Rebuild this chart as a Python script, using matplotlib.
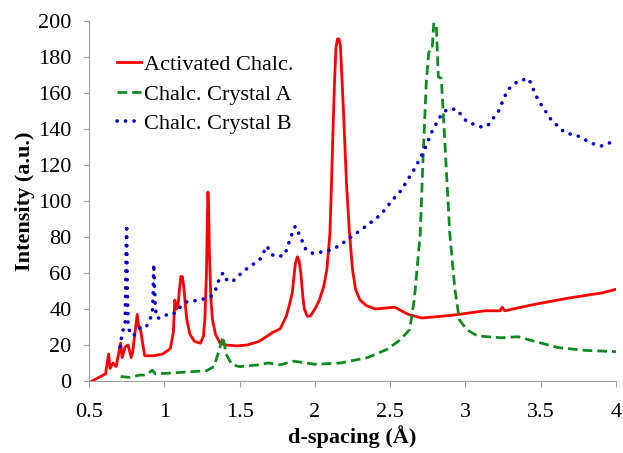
import matplotlib
matplotlib.use("Agg")
import matplotlib.pyplot as plt, numpy as np

plt.rcParams['font.family'] = ['Liberation Serif', 'DejaVu Serif']

# Activated Chalc.
d_act = [0.52, 0.61, 0.63, 0.64, 0.66, 0.68, 0.71, 0.72, 0.74, 0.76, 0.78, 0.79, 0.82, 0.83,
         0.84, 0.86, 0.87, 0.93, 0.99, 1.04, 1.06, 1.07, 1.08, 1.09, 1.10, 1.11, 1.12, 1.13,
         1.14, 1.15, 1.17, 1.20, 1.24, 1.26, 1.27, 1.28, 1.285, 1.29, 1.295, 1.30, 1.31, 1.32,
         1.34, 1.37, 1.41, 1.48, 1.55, 1.63, 1.72, 1.77, 1.81, 1.83, 1.85, 1.87, 1.884, 1.895,
         1.907, 1.92, 1.93, 1.95, 1.97, 2.0, 2.03, 2.06, 2.08, 2.10, 2.11, 2.12, 2.13, 2.14,
         2.15, 2.16, 2.17, 2.18, 2.19, 2.196, 2.21, 2.23, 2.25, 2.27, 2.30, 2.34, 2.40, 2.53,
         2.62, 2.71, 2.91, 3.13, 3.23, 3.244, 3.26, 3.46, 3.68, 3.91, 4.0]
i_act = [0, 4, 15, 7, 10, 8, 21, 13, 19, 20, 13, 16, 37, 30,
         30, 19, 14, 14, 15, 18, 27, 45, 40, 41, 50, 58, 58, 52,
         42, 34, 26, 22, 21, 25, 35, 60, 85, 105, 95, 70, 45, 34,
         26, 21, 20, 19.5, 20, 22, 27, 29, 36, 42, 49, 65, 69, 67,
         60, 47, 40, 36, 36, 40, 45, 53, 62, 82, 108, 138, 165, 185,
         190, 190, 186, 168, 150, 138, 110, 82, 62, 51, 45, 42, 40, 41,
         37, 35, 36.5, 39, 39, 41, 39, 42.6, 46, 49, 51]

# Chalc. Crystal A
d_a = [0.71, 0.77, 0.84, 0.88, 0.92, 0.94, 1.02, 1.15, 1.28, 1.33, 1.36, 1.39, 1.41, 1.45,
       1.50, 1.63, 1.69, 1.77, 1.86, 2.0, 2.17, 2.35, 2.48, 2.57, 2.63, 2.66, 2.70, 2.72,
       2.74, 2.756, 2.77, 2.78, 2.79, 2.807, 2.82, 2.84, 2.86, 2.896, 2.93, 2.96, 3.007,
       3.08, 3.24, 3.35, 3.46, 3.62, 3.80, 4.0]
i_a = [2.5, 2, 3.3, 3.3, 6, 4, 4.3, 5, 5.7, 8, 16, 24.6, 15, 9,
       8, 9, 10, 9, 11, 9.3, 10, 13, 17.6, 23, 28.7, 45, 82, 127,
       166, 182, 186, 186, 199, 197, 169, 168, 138, 82, 51, 34, 28.7,
       25, 24, 24.6, 22, 18.5, 17, 16.3]

# Chalc. Crystal B
d_b = [0.706, 0.72, 0.74, 0.745, 0.75, 0.754, 0.76, 0.78, 0.80, 0.83, 0.85, 0.88, 0.92, 0.925,
       0.93, 0.94, 0.95, 0.98, 1.02, 1.06, 1.09, 1.15, 1.24, 1.31, 1.34, 1.37, 1.39, 1.41,
       1.45, 1.50, 1.55, 1.61, 1.64, 1.68, 1.72, 1.75, 1.80, 1.84, 1.87, 1.91, 1.94, 1.98,
       2.08, 2.16, 2.24, 2.34, 2.44, 2.51, 2.57, 2.66, 2.72, 2.78, 2.84, 2.88, 2.94, 3.01,
       3.11, 3.15, 3.22, 3.28, 3.35, 3.42, 3.48, 3.57, 3.66, 3.75, 3.84, 3.90, 3.95, 4.0]
i_b = [19, 26.5, 32, 63, 87, 54, 30, 25.5, 25.5, 29, 30, 30, 37, 45,
       65, 41, 35, 35, 37, 37, 40, 44, 45, 47, 50.5, 58, 60, 56.5,
       55, 59, 62.5, 66, 68, 75, 70, 69, 70, 80, 86, 79, 73, 71,
       72, 75, 80, 86, 92.6, 100, 105.6, 117.6, 127, 139, 148, 151, 151, 144,
       141, 142, 150, 161.7, 166.7, 168, 156.5, 145, 138, 136, 132, 130.5, 132, 134]

fig = plt.figure(figsize=(6.23, 4.53), dpi=100)
ax = fig.add_axes([89/623, 72/453, 527/623, 360/453])

ax.plot(d_act, i_act, color='#ff0000', lw=2, label='Activated Chalc.')
ax.plot(d_a, i_a, color='#0f8a1f', lw=2, ls=(0, (3.5, 1.8)), label='Chalc. Crystal A')
ax.plot(d_b, i_b, color='#0000c8', lw=2.6, ls=(0, (0.05, 2.3)), dash_capstyle='round',
        label='Chalc. Crystal B')

ax.set_xlim(0.5, 4)
ax.set_ylim(0, 200)
ax.set_xticks(np.arange(0.5, 4.01, 0.5))
ax.set_xticklabels(['0.5', '1', '1.5', '2', '2.5', '3', '3.5', '4'])
ax.set_yticks(np.arange(0, 201, 20))
for s in ['top', 'right']:
    ax.spines[s].set_visible(False)
for s in ['left', 'bottom']:
    ax.spines[s].set_color('#a0a0a0')
ax.tick_params(colors='#a0a0a0', labelcolor='black', labelsize=16, length=4.5,
               direction='out', pad=8)
ax.tick_params(axis='x', pad=11.5)
ax.set_xlabel('d-spacing (Å)', fontsize=16, fontweight='bold', labelpad=2)
ax.set_ylabel('Intensity (a.u.)', fontsize=16, fontweight='bold', labelpad=2)

ax.legend(loc='upper left', bbox_to_anchor=(0.036, 0.932), frameon=False, fontsize=16,
          handlelength=1.1, handletextpad=0.1, labelspacing=0.41, borderaxespad=0)

fig.savefig('out.png', dpi=100)
